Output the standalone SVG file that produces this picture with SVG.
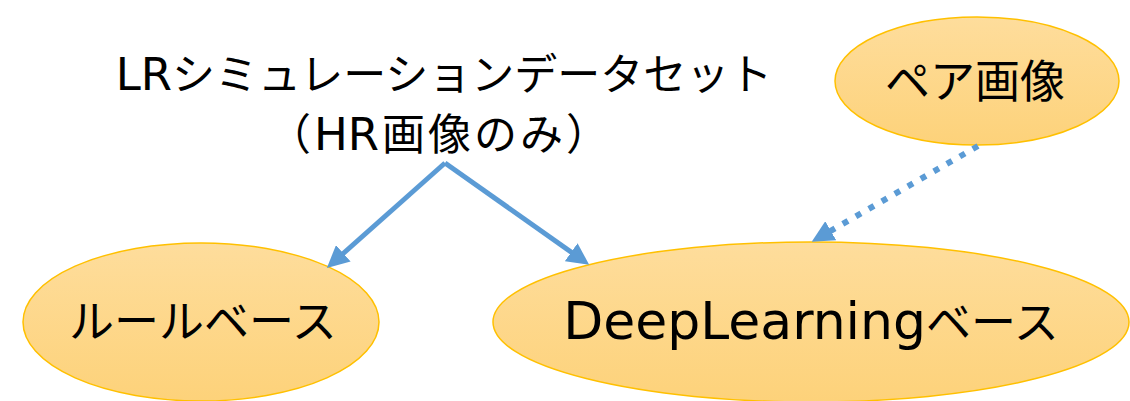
<svg xmlns="http://www.w3.org/2000/svg" width="1130" height="401" viewBox="0 0 1130 401">
  <defs>
    <linearGradient id="gold" x1="0" y1="0" x2="0" y2="1">
      <stop offset="0" stop-color="#fedd9c"/>
      <stop offset="1" stop-color="#fdd27a"/>
    </linearGradient>
    <marker id="ah" markerUnits="userSpaceOnUse" markerWidth="22" markerHeight="22" refX="5" refY="10" orient="auto" viewBox="0 0 20 20">
      <path d="M0,0 L20,10 L0,20 z" fill="#5b9bd5"/>
    </marker>
  </defs>
  <style>
    .node ellipse { fill: url(#gold); stroke: #ffc000; stroke-width: 1.5; }
    text { font-family: "Noto Sans CJK JP", "Noto Sans", sans-serif; fill: #000; text-anchor: middle; }
    .big { font-size: 43px; }
    .lat { font-family: "DejaVu Sans", "Noto Sans CJK JP", sans-serif; font-size: 45px; }
    .lbl { font-size: 45px; }
    .latl { font-family: "DejaVu Sans", "Noto Sans CJK JP", sans-serif; font-size: 52px; }
    .conn line { stroke: #5b9bd5; stroke-width: 5; fill: none; }
    .conn line.dot { stroke-dasharray: 6 9; stroke-width: 6; }
  </style>
  <rect width="1130" height="401" fill="#ffffff"/>

  <g id="dataset">
    <text class="big" x="444" y="90"><tspan class="lat">LR</tspan>シミュレーションデータセット</text>
    <text class="big" x="440" y="150" letter-spacing="3">（<tspan class="lat" letter-spacing="0">H</tspan><tspan class="lat">R</tspan>画像のみ）</text>
  </g>

  <g id="pair" class="node">
    <ellipse cx="977" cy="81" rx="142" ry="64"/>
    <text class="lbl" x="975" y="98">ペア画像</text>
  </g>

  <g id="rulebase" class="node">
    <ellipse cx="201" cy="322" rx="178" ry="79"/>
    <text class="lbl" x="203" y="338">ルールベース</text>
  </g>

  <g id="dlbase" class="node">
    <ellipse cx="811" cy="322" rx="318" ry="80"/>
    <text class="lbl" x="811" y="339"><tspan class="latl">DeepLearning</tspan>ベース</text>
  </g>

  <g id="connectors" class="conn">
    <line x1="445" y1="163" x2="339.2" y2="257" marker-end="url(#ah)"/>
    <line x1="445" y1="163" x2="575.7" y2="255.3" marker-end="url(#ah)"/>
    <line class="dot" x1="978" y1="146" x2="826" y2="233.5" marker-end="url(#ah)"/>
  </g>
</svg>
